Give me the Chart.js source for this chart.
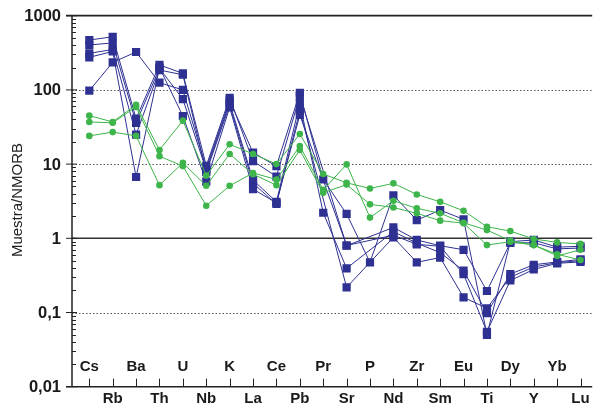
<!DOCTYPE html>
<html>
<head>
<meta charset="utf-8">
<script src="https://cdn.jsdelivr.net/npm/chart.js@4.4.1/dist/chart.umd.min.js"></script>
<style>
  html, body { margin: 0; padding: 0; background: #ffffff; }
  #wrap { width: 598px; height: 407px; position: relative; }
</style>
</head>
<body>
<div id="wrap"><canvas id="spider"></canvas></div>
<script>
// Elements along the x axis (normalised to N-MORB)
const elements = ['Cs','Rb','Ba','Th','U','Nb','K','La','Ce','Pb','Pr','Sr','P','Nd','Zr','Sm','Eu','Ti','Dy','Y','Yb','Lu'];

// Log axis decades and their labels
const yTicks = [1000, 100, 10, 1, 0.1, 0.01];
const yTickLabels = ['1000', '100', '10', '1', '0,1', '0,01'];
const dottedLevels = [100, 10, 0.1];

// Samples drawn with blue squares
const blueA = [470, 520, 41, 217, 167, 9.5, 78, 11, 6.8, 83, null, 0.795, null, 1.4, 0.95, 0.795, 0.70, 0.195, 0.87, 0.87, 0.72, 0.74];
const blueB = [403, 430, 36, 195, 75, 8.3, 67, 6.1, 3.1, 66, 2.21, 0.394, null, 1.23, 0.86, 0.64, 0.366, 0.098, 0.33, 0.44, 0.48, 0.52];
const blueC = [311, 350, 25, 185, 160, 7.8, 62, 5.5, 2.9, 52.5, null, 0.218, null, 1.03, 0.475, 0.55, 0.16, 0.114, 0.30, 0.41, 0.47, 0.50];
const blueD = [275, 330, 6.7, 200, 44.5, 5.8, 58, 4.6, 3.0, 46, null, 0.80, null, 1.1, 0.83, 0.78, 0.33, 0.055, 0.27, 0.38, 0.46, 0.48];
const blueE = [97.5, 235, 324, 125, 100, 8.8, 72, 14.3, 9.4, 91.6, 6.2, 2.13, 0.475, 3.8, 1.76, 2.4, 1.8, 0.05, 0.9, 0.95, 0.76, 0.78];

// Samples drawn with green circles
const greenA = [45, 37, 63, 15.5, 38.5, 7.0, 18.5, 13.7, 10.0, 25.4, 7.35, 5.6, 4.7, 5.5, 3.9, 3.1, 2.35, 1.43, 1.25, 0.98, 0.88, 0.84];
const greenB = [37, 36, 59, 12.8, 9.4, 2.75, 5.1, 7.6, 6.2, 17.5, 4.5, 9.9, 1.9, 3.2, 2.54, 2.17, 1.62, 1.29, 0.93, 0.81, 0.61, 0.51];
const greenC = [24, 27, 24, 5.2, 10.4, 5.1, 13.7, 7.3, 5.2, 15.5, 4.1, 5.3, 2.87, 2.6, 2.17, 1.73, 1.6, 0.81, 0.90, 0.81, 0.58, 0.70];

const BLUE = '#2e3192';
const GREEN = '#3db54a';

function toPoints(values) {
  return values.map((v, i) => ({ x: i, y: v }));
}

function blueSet(values) {
  return {
    data: toPoints(values),
    borderColor: BLUE,
    borderWidth: 1,
    backgroundColor: BLUE,
    pointStyle: 'rect',
    pointRadius: 5.8,
    pointBorderWidth: 0,
    pointBackgroundColor: BLUE,
    spanGaps: true,
    tension: 0,
    order: 2
  };
}

function greenSet(values) {
  return {
    data: toPoints(values),
    borderColor: GREEN,
    borderWidth: 1,
    backgroundColor: GREEN,
    pointStyle: 'circle',
    pointRadius: 3.3,
    pointBorderWidth: 0,
    pointBackgroundColor: GREEN,
    spanGaps: true,
    tension: 0,
    order: 1
  };
}

// Frame, grid, ticks and all axis text
const frame = {
  id: 'frame',
  beforeDatasetsDraw(chart) {
    const { ctx, chartArea: a, scales: { x, y } } = chart;
    ctx.save();

    // dotted decade lines
    ctx.strokeStyle = '#555';
    ctx.lineWidth = 1;
    ctx.setLineDash([1.5, 2]);
    dottedLevels.forEach(v => {
      const py = Math.round(y.getPixelForValue(v)) + 0.5;
      ctx.beginPath(); ctx.moveTo(a.left, py); ctx.lineTo(a.right, py); ctx.stroke();
    });
    ctx.setLineDash([]);

    // solid line at unity
    ctx.strokeStyle = '#333';
    ctx.lineWidth = 1.6;
    let py = y.getPixelForValue(1);
    ctx.beginPath(); ctx.moveTo(a.left, py); ctx.lineTo(a.right, py); ctx.stroke();

    // top border and axes
    ctx.strokeStyle = '#222';
    ctx.lineWidth = 1.8;
    py = y.getPixelForValue(1000);
    ctx.beginPath(); ctx.moveTo(a.left - 6, py); ctx.lineTo(a.right, py); ctx.stroke();
    ctx.lineWidth = 1.5;
    ctx.beginPath(); ctx.moveTo(a.left, a.top); ctx.lineTo(a.left, a.bottom); ctx.stroke();
    py = y.getPixelForValue(0.01);
    ctx.beginPath(); ctx.moveTo(a.left - 6, py); ctx.lineTo(a.right, py); ctx.stroke();

    // y ticks: decades cross the axis, minor ticks point inwards
    ctx.lineWidth = 1;
    for (let e = -2; e < 3; e++) {
      for (let m = 2; m <= 9; m++) {
        const ty = Math.round(y.getPixelForValue(m * Math.pow(10, e))) + 0.5;
        ctx.beginPath(); ctx.moveTo(a.left, ty); ctx.lineTo(a.left + 4, ty); ctx.stroke();
      }
    }
    yTicks.forEach(v => {
      const ty = y.getPixelForValue(v);
      ctx.beginPath(); ctx.moveTo(a.left - 6, ty); ctx.lineTo(a.left + 5, ty); ctx.stroke();
    });

    // x ticks pointing up into the plot
    elements.forEach((el, i) => {
      const tx = Math.round(x.getPixelForValue(i)) + 0.5;
      ctx.beginPath(); ctx.moveTo(tx, a.bottom); ctx.lineTo(tx, a.bottom - 8); ctx.stroke();
    });
    ctx.restore();
  },
  afterDraw(chart) {
    const { ctx, chartArea: a, scales: { x, y } } = chart;
    ctx.save();
    ctx.fillStyle = '#1a1a1a';

    // y tick labels
    ctx.font = 'bold 16.5px "Liberation Sans", Arial, sans-serif';
    ctx.textAlign = 'right';
    ctx.textBaseline = 'middle';
    yTicks.forEach((v, i) => {
      ctx.fillText(yTickLabels[i], a.left - 11, y.getPixelForValue(v) + 1);
    });

    // element labels: alternate between inside the plot and below the axis
    ctx.font = 'bold 15px "Liberation Sans", Arial, sans-serif';
    ctx.textAlign = 'center';
    elements.forEach((el, i) => {
      const tx = x.getPixelForValue(i);
      const ty = (i % 2 === 0) ? a.bottom - 19.5 : a.bottom + 12;
      ctx.fillText(el, tx, ty);
    });

    // axis title
    ctx.font = '15px "Liberation Sans", Arial, sans-serif';
    ctx.translate(18, 200);
    ctx.rotate(-Math.PI / 2);
    ctx.textAlign = 'center';
    ctx.textBaseline = 'middle';
    ctx.fillStyle = '#222';
    ctx.fillText('Muestra/NMORB', 0, 0);
    ctx.restore();
  }
};

new Chart(document.getElementById('spider'), {
  type: 'line',
  data: {
    datasets: [
      blueSet(blueA), blueSet(blueB), blueSet(blueC), blueSet(blueD), blueSet(blueE),
      greenSet(greenA), greenSet(greenB), greenSet(greenC)
    ]
  },
  options: {
    responsive: true,
    maintainAspectRatio: false,
    animation: false,
    layout: { padding: { left: 72, right: 0, top: 15.7, bottom: 20.3 } },
    plugins: { legend: { display: false }, tooltip: { enabled: false } },
    scales: {
      x: { type: 'linear', min: -0.74, max: 21.5, display: false },
      y: { type: 'logarithmic', min: 0.01, max: 1000, display: false }
    },
    elements: { line: { fill: false } }
  },
  plugins: [frame]
});
</script>
</body>
</html>
